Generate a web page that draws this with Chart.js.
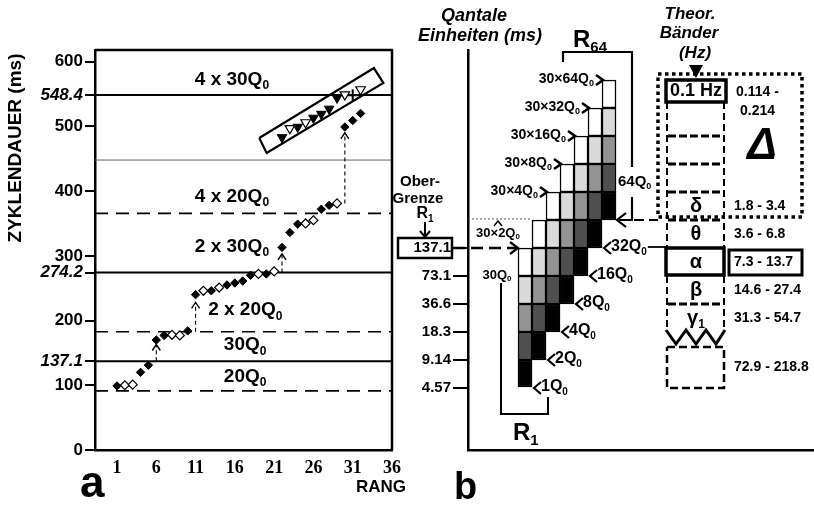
<!DOCTYPE html>
<html>
<head>
<meta charset="utf-8">
<script src="https://cdn.jsdelivr.net/npm/chart.js@4.4.0/dist/chart.umd.min.js"></script>
<style>
  html, body { margin: 0; padding: 0; background: #fff; }
  #wrap { position: relative; width: 814px; height: 507px; overflow: hidden; }
  canvas { position: absolute; top: 0; }
</style>
</head>
<body>
<div id="wrap">
  <canvas id="chartA" width="420" height="507" style="left:0"></canvas>
  <canvas id="chartB" width="434" height="507" style="left:380px"></canvas>
</div>
<script>
// --- panel a: cycle durations by rank ---
const rankTicks = [1, 6, 11, 16, 21, 26, 31, 36];
const durationTicks = [0, 100, 137.1, 200, 274.2, 300, 400, 500, 548.4, 600];
const italicTicks = [137.1, 274.2, 548.4];

const filledDiamondRanks = [1, 4, 5, 6, 7, 10, 11, 13, 15, 16, 17, 18, 20, 22, 23, 24, 27, 28, 30, 31, 32];
const filledDiamondValues = [99, 120, 131, 170, 177, 184, 240, 246, 255, 258, 261, 270, 272, 313, 336, 349, 372, 378, 499, 509, 520];
const openDiamondRanks = [2, 3, 8, 9, 12, 14, 19, 21, 25, 26, 29];
const openDiamondValues = [100, 101, 178, 177, 246, 251, 272, 276, 350, 355, 381];
const filledTriangleRanks = [22, 24, 26, 27, 28, 29];
const filledTriangleValues = [483, 499, 513, 519, 527, 544];
const openTriangleRanks = [23, 25, 30, 32];
const openTriangleValues = [497, 506, 549, 557];
const crossRanks = [31];
const crossValues = [548];

// reference levels (multiples of Q0 = 4.57 ms)
const solidRefs = [548.4, 274.2, 137.1];
const dashedRefs = [365.6, 182.8, 91.4];
const thinRefs = [448];
const refTexts = ['4 x 30Q', '4 x 20Q', '2 x 30Q', '2 x 20Q', '30Q', '20Q'];
const refTextRanks = [10.9, 10.9, 10.9, 12.6, 14.6, 14.6];
const refTextValues = [572, 391, 314, 216, 162, 113];

// dashed jump arrows
const arrowRanks = [6, 11, 22, 30];
const arrowFrom = [137.1, 182.8, 274.2, 381];
const arrowTo = [163, 228, 303, 490];

// tilted frame round the triangle series
const frameRanks = [19.1, 20.05, 34.9, 33.7];
const frameValues = [482, 459, 567, 590];

// --- panel b: quantal units ---
const quantaLevels = [0, 1, 2, 3, 4, 5];
const quantaLabels = ['4.57', '9.14', '18.3', '36.6', '73.1', '137.1'];
const columnPos = [0.5, 1.5, 2.5, 3.5, 4.5, 5.5, 6.5];
const columnNames = ['1Q', '2Q', '4Q', '8Q', '16Q', '32Q', '64Q'];
const columnTops = ['30Q', '30×2Q', '30×4Q', '30×8Q', '30×16Q', '30×32Q', '30×64Q'];
const blackStart = [0, 1, 2, 3, 4, 5, 6];
const darkStart = [1, 2, 3, 4, 5, 6, 7];
const midStart = [2, 3, 4, 5, 6, 7, 8];
const lightStart = [3, 4, 5, 6, 7, 8, 9];
const whiteStart = [4, 5, 6, 7, 8, 9, 10];
const shadeColors = ['#000000', '#4f4f4f', '#939393', '#dadada', '#ffffff'];

const bandNames = ['δ', 'θ', 'α', 'β', 'γ'];
const bandLevels = [6.5, 5.5, 4.5, 3.5, 2.5];
const bandRanges = ['1.8 - 3.4', '3.6 - 6.8', '7.3 - 13.7', '14.6 - 27.4', '31.3 - 54.7'];

const SANS = "'Liberation Sans', Arial, sans-serif";
const SERIF = "'Liberation Serif', 'Times New Roman', serif";
const OFF = 380; // page x of panel b canvas

function pairs(xs, ys) {
    return xs.map((x, i) => ({ x: x, y: ys[i] }));
}

function seg(ctx, pts, lw, dash) {
    ctx.save();
    ctx.lineWidth = lw;
    ctx.setLineDash(dash || []);
    ctx.beginPath();
    pts.forEach((p, i) => i ? ctx.lineTo(p[0], p[1]) : ctx.moveTo(p[0], p[1]));
    ctx.stroke();
    ctx.restore();
}

function chevron(ctx, x, y, dir, len, half, lw) {
    ctx.save();
    ctx.lineWidth = lw;
    ctx.setLineDash([]);
    ctx.beginPath();
    if (dir === 'r') { ctx.moveTo(x - len, y - half); ctx.lineTo(x, y); ctx.lineTo(x - len, y + half); }
    if (dir === 'l') { ctx.moveTo(x + len, y - half); ctx.lineTo(x, y); ctx.lineTo(x + len, y + half); }
    if (dir === 'u') { ctx.moveTo(x - half, y + len); ctx.lineTo(x, y); ctx.lineTo(x + half, y + len); }
    if (dir === 'd') { ctx.moveTo(x - half, y - len); ctx.lineTo(x, y); ctx.lineTo(x + half, y - len); }
    ctx.stroke();
    ctx.restore();
}

function label(ctx, txt, x, y, font, align) {
    ctx.font = font;
    ctx.textAlign = align || 'left';
    ctx.textBaseline = 'middle';
    ctx.fillText(txt, x, y);
}

// text with a subscript, returns right end
function subText(ctx, main, sub, x, y, size, align, style) {
    const f = (style || 'bold') + ' ' + size + 'px ' + SANS;
    const fs = 'bold ' + Math.round(size * 0.62) + 'px ' + SANS;
    ctx.font = f;
    const w1 = ctx.measureText(main).width;
    ctx.font = fs;
    const w2 = sub ? ctx.measureText(sub).width : 0;
    let x0 = x;
    if (align === 'center') x0 = x - (w1 + w2) / 2;
    if (align === 'right') x0 = x - w1 - w2;
    ctx.textAlign = 'left';
    ctx.textBaseline = 'middle';
    ctx.font = f;
    ctx.fillText(main, x0, y);
    if (sub) {
        ctx.font = fs;
        ctx.fillText(sub, x0 + w1, y + size * 0.32);
    }
    return x0 + w1 + w2;
}

const panelA = {
    id: 'panelA',
    beforeDatasetsDraw(chart) {
        const { ctx, chartArea: a, scales: { x, y } } = chart;
        ctx.save();
        ctx.strokeStyle = '#000';
        solidRefs.forEach(v => seg(ctx, [[a.left, y.getPixelForValue(v)], [a.right, y.getPixelForValue(v)]], 2));
        ctx.strokeStyle = '#666';
        thinRefs.forEach(v => seg(ctx, [[a.left, y.getPixelForValue(v)], [a.right, y.getPixelForValue(v)]], 1));
        ctx.strokeStyle = '#000';
        dashedRefs.forEach(v => seg(ctx, [[a.left, y.getPixelForValue(v)], [a.right, y.getPixelForValue(v)]], 1.6, [13, 8]));

        // tilted frame
        const fr = frameRanks.map((r, i) => [x.getPixelForValue(r), y.getPixelForValue(frameValues[i])]);
        fr.push(fr[0]);
        seg(ctx, fr, 2.2);

        // dashed arrows
        arrowRanks.forEach((r, i) => {
            const px = x.getPixelForValue(r);
            const y0 = y.getPixelForValue(arrowFrom[i]);
            const y1 = y.getPixelForValue(arrowTo[i]);
            seg(ctx, [[px, y0], [px, y1]], 1.1, [4, 3]);
            chevron(ctx, px, y1, 'u', 6, 4, 1.4);
        });
        ctx.restore();
    },
    afterDraw(chart) {
        const { ctx, chartArea: a, scales: { x, y } } = chart;
        ctx.save();
        ctx.fillStyle = '#000';
        ctx.strokeStyle = '#000';
        // top and right frame
        seg(ctx, [[a.left, a.top], [a.right, a.top], [a.right, a.bottom]], 2.5);

        refTexts.forEach((t, i) => {
            subText(ctx, t, '0', x.getPixelForValue(refTextRanks[i]), y.getPixelForValue(refTextValues[i]), 19, 'left');
        });

        // axis title
        ctx.save();
        ctx.translate(16, 148);
        ctx.rotate(-Math.PI / 2);
        label(ctx, 'ZYKLENDAUER (ms)', 0, 0, 'bold 19px ' + SANS, 'center');
        ctx.restore();

        label(ctx, 'RANG', 381, 487, 'bold 17px ' + SANS, 'center');
        ctx.textBaseline = 'alphabetic';
        ctx.font = 'bold 44px ' + SANS;
        ctx.textAlign = 'left';
        ctx.fillText('a', 80, 497);
        ctx.restore();
    }
};

const panelB = {
    id: 'panelB',
    afterDraw(chart) {
        const { ctx, chartArea: a, scales: { x: xs, y: ys } } = chart;
        const X = u => xs.getPixelForValue(u);
        const Y = l => ys.getPixelForValue(l);
        const P = v => v - OFF;
        ctx.save();
        ctx.fillStyle = '#000';
        ctx.strokeStyle = '#000';

        // headings
        const hf = 'italic bold 18px ' + SANS;
        label(ctx, 'Qantale', P(474), 16, hf, 'center');
        label(ctx, 'Einheiten (ms)', P(480), 36, hf, 'center');
        const tf = 'italic bold 17px ' + SANS;
        label(ctx, 'Theor.', P(690), 14, tf, 'center');
        label(ctx, 'Bänder', P(689), 33, tf, 'center');
        label(ctx, '(Hz)', P(695), 53, tf, 'center');
        ctx.beginPath();
        ctx.moveTo(P(689), 65); ctx.lineTo(P(703), 65); ctx.lineTo(P(696), 78); ctx.closePath();
        ctx.fill();

        // upper limit R1 box and arrow
        label(ctx, 'Ober-', P(420), 182, 'bold 15px ' + SANS, 'center');
        label(ctx, 'Grenze', P(418), 199, 'bold 15px ' + SANS, 'center');
        subText(ctx, 'R', '1', P(425), 214, 16, 'center');
        seg(ctx, [[P(425), 222], [P(425), 236]], 2);
        chevron(ctx, P(425), 237, 'd', 6, 5, 2);
        ctx.lineWidth = 2.5;
        ctx.strokeRect(P(398), Y(5) - 10, 54, 20);
        seg(ctx, [[P(453), Y(5)], [X(0) - 2, Y(5)]], 2.5, [12, 6]);
        chevron(ctx, X(0), Y(5), 'r', 8, 6, 2.2);

        // dotted level of 30x2Q0
        ctx.strokeStyle = '#555';
        seg(ctx, [[a.left, Y(6) - 1], [X(1), Y(6) - 1]], 1, [2, 2]);
        ctx.strokeStyle = '#000';
        subText(ctx, '30×2Q', '0', P(498), 233, 13, 'center');
        chevron(ctx, P(498), 221, 'u', 5, 4, 1.5);
        subText(ctx, '30Q', '0', P(497), 275, 13, 'center');

        // column top labels
        for (let c = 2; c < columnTops.length; c++) {
            const tx = X(c) + 1, ty = Y(c + 5);
            chevron(ctx, tx, ty, 'r', 7, 5, 2.6);
            subText(ctx, columnTops[c], '0', tx - 9, ty - 1, 14, 'right');
        }
        // column bottom labels
        for (let c = 0; c < 6; c++) {
            const tx = X(c + 1) + 2, ty = Y(c);
            chevron(ctx, tx, ty, 'l', 7, 6, 2.2);
            const end = subText(ctx, columnNames[c], '0', tx + 7, ty - 1, 16, 'left');
            if (c === 5) seg(ctx, [[end + 1, ty - 1], [P(666), ty - 1]], 1.8);
        }

        // R64 bracket
        subText(ctx, 'R', '64', P(573), 40, 24, 'left');
        seg(ctx, [[P(563), 62], [P(563), 52], [P(632), 52], [P(632), 167]], 2.2);
        subText(ctx, '64Q', '0', P(618), 182, 15, 'left');
        seg(ctx, [[P(632), 197], [P(632), Y(6)], [X(7) + 3, Y(6)]], 2.2);
        chevron(ctx, X(7) + 1, Y(6), 'l', 9, 7, 2.2);
        seg(ctx, [[P(634), Y(6)], [P(658), Y(6)]], 2, [10, 5]);

        // R1 bracket
        seg(ctx, [[P(501), 283], [P(501), 414], [P(548), 414], [P(548), 397]], 2);
        subText(ctx, 'R', '1', P(513), 433, 24, 'left');

        // theoretical bands column
        const bL = P(667), bR = P(724);
        seg(ctx, [[P(658), 74], [P(802), 74], [P(802), 217], [P(658), 217], [P(658), 74]], 3.5, [3.5, 3.5]);
        ctx.lineWidth = 3.5;
        ctx.setLineDash([]);
        ctx.strokeRect(P(666), 80, 60, 22);
        label(ctx, '0.1 Hz', P(696), 91, 'bold 18px ' + SANS, 'center');
        seg(ctx, [[bL, 102], [bL, Y(5)]], 2, [7, 4]);
        seg(ctx, [[bR, 102], [bR, Y(5)]], 2, [7, 4]);
        [9, 8, 7, 6].forEach(l => seg(ctx, [[bL + 1, Y(l)], [bR - 1, Y(l)]], 3, [8, 3]));
        ctx.lineWidth = 3.5;
        ctx.strokeRect(P(666), Y(5), 58, Y(4) - Y(5) - 1);
        seg(ctx, [[bL, Y(4)], [bL, Y(2) - 2]], 2, [7, 4]);
        seg(ctx, [[bR, Y(4)], [bR, Y(2) - 2]], 2, [7, 4]);
        seg(ctx, [[bL + 1, Y(3)], [bR - 1, Y(3)]], 3, [8, 3]);
        seg(ctx, [[P(666), 330], [P(676), 344], [P(686), 330], [P(696), 344], [P(706), 330], [P(716), 344], [P(725), 330]], 3);
        seg(ctx, [[bL, 347], [bR, 347], [bR, Y(0)], [bL, Y(0)], [bL, 347]], 2.5, [8, 4]);

        bandNames.forEach((n, i) => {
            subText(ctx, n, i === 4 ? '1' : '', P(696), Y(bandLevels[i]), 20, 'center');
            label(ctx, bandRanges[i], P(734), Y(bandLevels[i]), 'bold 14px ' + SANS, 'left');
        });
        ctx.lineWidth = 3;
        ctx.strokeRect(P(729), Y(5) + 2, 73, 25);
        label(ctx, '0.114 -', P(736), 92, 'bold 14px ' + SANS, 'left');
        label(ctx, '0.214', P(740), 111, 'bold 14px ' + SANS, 'left');
        label(ctx, '72.9 - 218.8', P(734), 367, 'bold 14px ' + SANS, 'left');
        label(ctx, 'Δ', P(762), 147, 'italic bold 44px ' + SANS, 'center');

        ctx.textBaseline = 'alphabetic';
        ctx.textAlign = 'left';
        ctx.font = 'bold 38px ' + SANS;
        ctx.fillText('b', P(454), 499);
        ctx.restore();
    }
};

new Chart(document.getElementById('chartA'), {
    type: 'scatter',
    data: {
        datasets: [
            { data: pairs(filledDiamondRanks, filledDiamondValues), pointStyle: 'rectRot', radius: 4.2, backgroundColor: '#000', borderColor: '#000', borderWidth: 1 },
            { data: pairs(openDiamondRanks, openDiamondValues), pointStyle: 'rectRot', radius: 4.5, backgroundColor: '#fff', borderColor: '#000', borderWidth: 1.2 },
            { data: pairs(filledTriangleRanks, filledTriangleValues), pointStyle: 'triangle', rotation: 180, radius: 5.5, backgroundColor: '#000', borderColor: '#000', borderWidth: 1 },
            { data: pairs(openTriangleRanks, openTriangleValues), pointStyle: 'triangle', rotation: 180, radius: 5.5, backgroundColor: '#fff', borderColor: '#000', borderWidth: 1.2 },
            { data: pairs(crossRanks, crossValues), pointStyle: 'cross', radius: 6, borderColor: '#000', borderWidth: 2 }
        ]
    },
    options: {
        responsive: false,
        animation: false,
        devicePixelRatio: 1,
        layout: { padding: { top: 50, right: 28, left: 0, bottom: 0 } },
        plugins: { legend: { display: false }, tooltip: { enabled: false } },
        scales: {
            x: {
                type: 'linear', min: -1.8, max: 36,
                afterBuildTicks: s => { s.ticks = rankTicks.map(v => ({ value: v })); },
                afterFit: s => { s.height = 57; },
                grid: { display: false, drawTicks: false },
                border: { color: '#000', width: 2.5 },
                ticks: { color: '#000', padding: 8, maxRotation: 0, autoSkip: false, font: { family: SERIF, size: 18, weight: 'bold' } }
            },
            y: {
                type: 'linear', min: 0, max: 618,
                afterBuildTicks: s => { s.ticks = durationTicks.map(v => ({ value: v })); },
                afterFit: s => { s.width = 95; },
                grid: { drawOnChartArea: false, color: '#000', lineWidth: 2, tickLength: 10 },
                border: { color: '#000', width: 2.5 },
                ticks: {
                    color: '#000', padding: 2, autoSkip: false,
                    callback: v => String(v),
                    font: c => ({ family: SANS, size: 17, weight: 'bold', style: (c.tick && italicTicks.includes(c.tick.value)) ? 'italic' : 'normal' })
                }
            }
        }
    },
    plugins: [panelA]
});

const shadeStarts = [blackStart, darkStart, midStart, lightStart, whiteStart];

new Chart(document.getElementById('chartB'), {
    type: 'bar',
    data: {
        datasets: shadeStarts.map((starts, k) => ({
            data: columnPos.map((x, i) => ({ x: x, y: [starts[i], starts[i] + 1] })),
            backgroundColor: shadeColors[k],
            borderColor: '#000',
            borderWidth: 1.5,
            borderSkipped: false,
            grouped: false,
            barPercentage: 1,
            categoryPercentage: 1
        }))
    },
    options: {
        responsive: false,
        animation: false,
        devicePixelRatio: 1,
        layout: { padding: { top: 50, right: 0, left: 0, bottom: 0 } },
        plugins: { legend: { display: false }, tooltip: { enabled: false } },
        scales: {
            x: {
                type: 'linear', min: -3.571, max: 21.14, offset: false,
                afterFit: s => { s.height = 57; },
                grid: { display: false, offset: false, drawTicks: false },
                ticks: { display: false },
                border: { color: '#000', width: 2.5 }
            },
            y: {
                type: 'linear', min: -2.214, max: 12.071,
                afterBuildTicks: s => { s.ticks = quantaLevels.map(v => ({ value: v })); },
                afterFit: s => { s.width = 88; },
                grid: { drawOnChartArea: false, color: '#000', lineWidth: 2, tickLength: 15 },
                border: { color: '#000', width: 2.5 },
                ticks: {
                    color: '#000', padding: 2, autoSkip: false,
                    callback: v => quantaLabels[quantaLevels.indexOf(v)],
                    font: { family: SANS, size: 15, weight: 'bold' }
                }
            }
        }
    },
    plugins: [panelB]
});
</script>
</body>
</html>
